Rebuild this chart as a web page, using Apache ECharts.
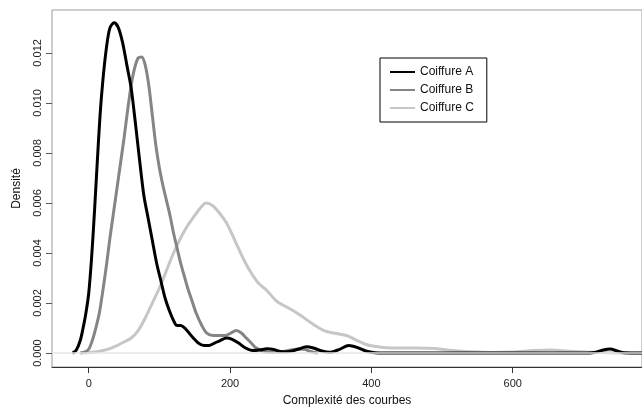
<!DOCTYPE html>
<html>
<head>
<meta charset="utf-8">
<script src="https://cdn.jsdelivr.net/npm/echarts@6/dist/echarts.min.js"></script>
<style>
html,body{margin:0;padding:0;background:#fff;}
#chart{width:642px;height:412px;}
</style>
</head>
<body>
<div id="chart"></div>
<script>
// Series names
const seriesNames = ['Coiffure A', 'Coiffure B', 'Coiffure C'];

// Coiffure A (density curve)
const aX = [-23,-18,-12,-8,-4,0,4,8,12,16,20,25,30,36,42,48,54,60,66,72,78,84,90,96,102,108,114,120,125,130,136,142,148,155,163,170,178,186,195,203,212,222,232,242,252,262,274,284,296,308,318,330,342,355,368,380,392,405,420,500,600,700,715,728,738,748,758,785];
const aY = [0,0.0001,0.0005,0.0010,0.0016,0.0024,0.0038,0.0056,0.0076,0.0095,0.0109,0.0122,0.0130,0.0132,0.0130,0.0124,0.0115,0.0106,0.0092,0.0077,0.0063,0.0054,0.0045,0.0036,0.0029,0.0022,0.0017,0.0013,0.0011,0.0011,0.0010,0.0008,0.0006,0.0004,0.0003,0.0003,0.0004,0.0005,0.0006,0.00055,0.0004,0.0002,0.0001,0.00012,0.00017,0.00014,0.00005,0.00006,0.00015,0.00025,0.0002,0.00008,0.00003,0.00015,0.0003,0.00022,0.00008,0.00001,0,0,0,0,0.00002,0.00012,0.00016,0.00008,0.00001,0];

// Coiffure B
const bX = [-12,-5,0,5,10,15,20,25,30,35,40,45,50,55,60,65,70,75,80,85,90,95,100,105,110,115,120,125,130,135,140,146,152,160,167,176,185,193,201,209,216,223,230,237,245,255,265,275,286,296,305,314,324];
const bY = [0,0.00005,0.00015,0.0005,0.0010,0.0016,0.0025,0.0035,0.0046,0.0056,0.0066,0.0076,0.0086,0.0097,0.0107,0.0114,0.0118,0.01184,0.0115,0.0107,0.0095,0.0083,0.0074,0.0067,0.0061,0.0055,0.0048,0.0042,0.0036,0.0031,0.0026,0.0021,0.0016,0.0011,0.0008,0.0007,0.0007,0.0007,0.0008,0.0009,0.0008,0.0006,0.0004,0.0002,0.0001,0.00003,0.00003,0.00006,0.00012,0.00016,0.00015,0.00006,0];

// Coiffure C
const cX = [-6,0,10,20,30,40,50,60,70,80,90,100,110,120,130,140,150,158,166,175,185,195,202,210,220,230,240,252,265,276,286,300,315,333,350,365,380,395,410,430,460,490,515,540,570,600,630,655,680,710,740,785];
const cY = [0,0.00002,0.00005,0.0001,0.00018,0.0003,0.00044,0.0006,0.0009,0.0014,0.0020,0.0026,0.0033,0.0040,0.0046,0.0051,0.0055,0.0058,0.0060,0.0059,0.0056,0.0052,0.0048,0.0043,0.0037,0.0032,0.0028,0.0025,0.0021,0.0019,0.00175,0.0015,0.0012,0.0009,0.00078,0.0007,0.0005,0.00032,0.00025,0.0002,0.0002,0.00018,0.0001,0.00005,0.00002,0.00004,0.0001,0.00012,0.00007,0.00003,0.00001,0];

// Tick values
const xTicks = [0, 200, 400, 600];
const yTicks = [0, 0.002, 0.004, 0.006, 0.008, 0.010, 0.012];

const zip = (xs, ys) => xs.map((x, i) => [x, ys[i]]);

const chart = echarts.init(document.getElementById('chart'), null, {renderer: 'canvas'});
const font = '"Liberation Sans", Arial, Helvetica, sans-serif';
const lineSeries = (name, data, color) => ({
  name, type: 'line', data, symbol: 'none', showSymbol: false,
  smooth: 0.3, z: 3, clip: true,
  lineStyle: {color, width: 3}, itemStyle: {color}
});

chart.setOption({
  animation: false,
  backgroundColor: '#fff',
  textStyle: {fontFamily: font},
  grid: {left: 52, top: 10, right: -6, bottom: 44, show: true, borderColor: '#9a9a9a', borderWidth: 1, backgroundColor: 'transparent'},
  legend: {
    data: seriesNames, orient: 'vertical', left: 380, top: 58,
    padding: [8, 13, 8, 9], itemGap: 6, itemWidth: 25, itemHeight: 12,
    borderColor: '#000', borderWidth: 1, borderRadius: 0, backgroundColor: '#fff',
    itemStyle: {opacity: 0},
    textStyle: {fontFamily: font, fontSize: 12, color: '#111'}
  },
  xAxis: {
    type: 'value', min: -52, max: 783,
    name: 'Complexité des courbes', nameLocation: 'middle', nameGap: 28,
    nameTextStyle: {fontFamily: font, fontSize: 12, color: '#111'},
    axisLine: {show: true, onZero: false, lineStyle: {color: '#333', width: 1}},
    axisTick: {show: true, customValues: xTicks, length: 6, lineStyle: {color: '#333'}},
    axisLabel: {customValues: xTicks, margin: 11, fontSize: 11, color: '#222', fontFamily: font},
    splitLine: {show: false}
  },
  yAxis: {
    type: 'value', min: -0.000558, max: 0.013714,
    name: 'Densité', nameLocation: 'middle', nameGap: 29, nameRotate: 90,
    nameTextStyle: {fontFamily: font, fontSize: 12, color: '#111'},
    axisLine: {show: false, onZero: false},
    axisTick: {show: true, customValues: yTicks, length: 6, lineStyle: {color: '#555'}},
    axisLabel: {customValues: yTicks, rotate: 90, margin: 9, fontSize: 11, color: '#222', fontFamily: font,
      formatter: v => v.toFixed(3)},
    splitLine: {show: false}
  },
  series: [
    {
      type: 'line', data: [], z: 1, silent: true,
      markLine: {silent: true, symbol: 'none', label: {show: false},
        lineStyle: {color: '#e4e4e4', width: 1.5, type: 'solid'},
        data: [{yAxis: 0}]}
    },
    lineSeries(seriesNames[2], zip(cX, cY), '#c6c6c6'),
    lineSeries(seriesNames[1], zip(bX, bY), '#858585'),
    lineSeries(seriesNames[0], zip(aX, aY), '#000000')
  ]
});
</script>
</body>
</html>
